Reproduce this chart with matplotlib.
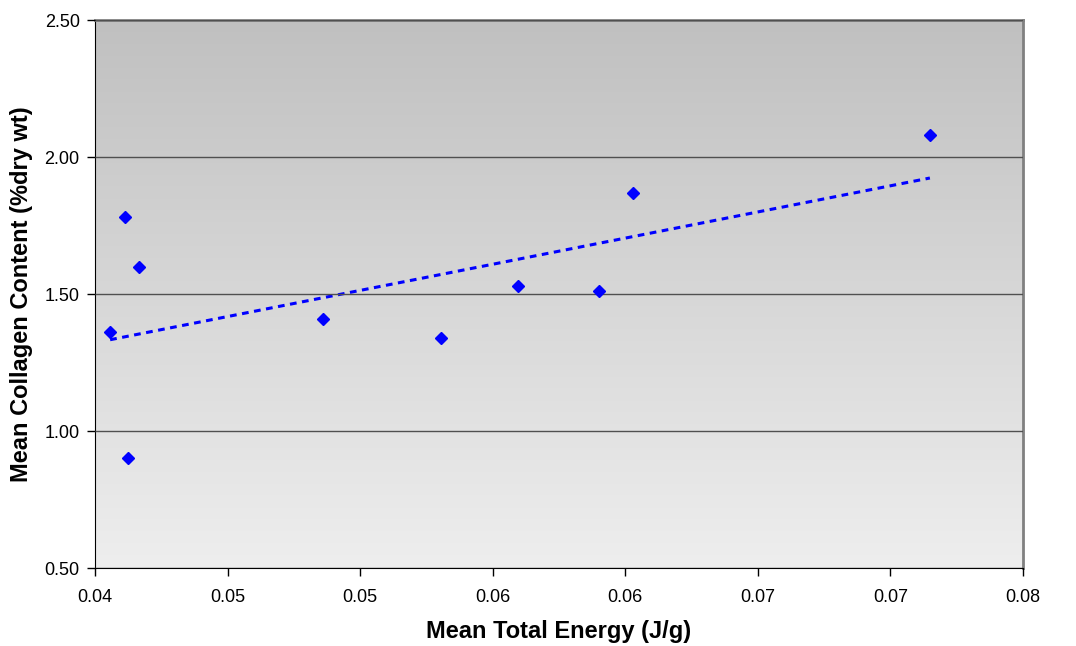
import numpy as np
import matplotlib.pyplot as plt

# Mean total energy (J/g) vs mean collagen content (%dry wt)
energy = [0.04057, 0.04113, 0.04124, 0.04166, 0.0486, 0.05305, 0.05595, 0.0590, 0.06029, 0.07149]
collagen = [1.36, 1.78, 0.90, 1.60, 1.41, 1.34, 1.53, 1.51, 1.87, 2.08]

x_ticks = [0.040, 0.045, 0.050, 0.055, 0.060, 0.065, 0.070, 0.075]
x_labels = ['0.04', '0.05', '0.05', '0.06', '0.06', '0.07', '0.07', '0.08']
y_ticks = [0.50, 1.00, 1.50, 2.00, 2.50]

plt.rcParams['font.family'] = ['Liberation Sans', 'DejaVu Sans']

fig = plt.figure(figsize=(10.76, 6.46), dpi=100)
ax = fig.add_axes([0.0883, 0.1207, 0.8624, 0.8483])

# grey gradient background
grad = np.linspace(0, 1, 256).reshape(-1, 1)
ax.imshow(grad, cmap=plt.matplotlib.colors.LinearSegmentedColormap.from_list('g', ['#c0c0c0', '#eeeeee']),
          extent=[0, 1, 0, 1], transform=ax.transAxes, aspect='auto', zorder=0)

ax.set_xlim(0.040, 0.075)
ax.set_ylim(0.5, 2.5)
ax.set_xticks(x_ticks)
ax.set_xticklabels(x_labels)
ax.set_yticks(y_ticks)
ax.set_yticklabels(['%.2f' % v for v in y_ticks])
ax.yaxis.grid(True, color='#505050', linewidth=1)
ax.set_axisbelow(False)
for s in ax.get_ygridlines():
    s.set_zorder(1)

ax.tick_params(direction='out', length=6, width=1, labelsize=13, colors='black')
ax.tick_params(axis='x', pad=9)
ax.tick_params(axis='y', pad=5)
ax.spines['left'].set_color('black')
ax.spines['bottom'].set_color('black')
ax.spines['top'].set_color('#808080')
ax.spines['right'].set_color('#808080')
ax.spines['top'].set_linewidth(2)
ax.spines['right'].set_linewidth(2)

ax.plot(energy, collagen, linestyle='none', marker='D', markersize=6.3, color='#0000ff', zorder=3)

# linear trendline
k, b = np.polyfit(energy, collagen, 1)
tx = np.array([min(energy), max(energy)])
ax.plot(tx, k * tx + b, color='#0000ff', linewidth=2.2, linestyle=(0, (2.2, 1.8)), zorder=2)

ax.set_xlabel('Mean Total Energy (J/g)', fontsize=17, fontweight='bold', labelpad=10)
ax.set_ylabel('Mean Collagen Content (%dry wt)', fontsize=17, fontweight='bold', labelpad=8)

fig.savefig('out.png', dpi=100)
